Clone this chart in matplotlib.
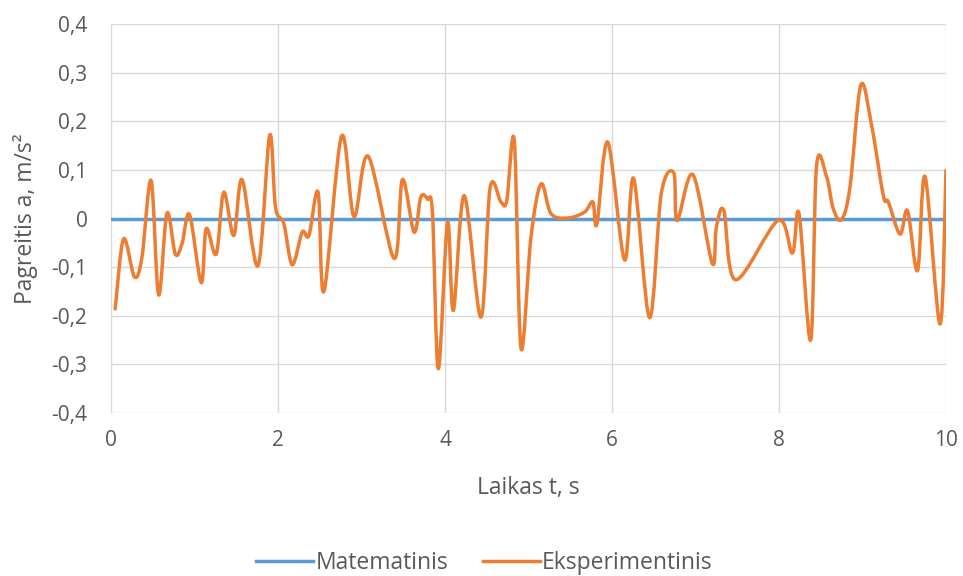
import matplotlib
matplotlib.use("Agg")
import matplotlib.pyplot as plt
from matplotlib.path import Path
from matplotlib.patches import PathPatch
from matplotlib.lines import Line2D
from matplotlib.ticker import FuncFormatter, MultipleLocator

plt.rcParams['font.family'] = ['Open Sans', 'DejaVu Sans']

# Data
t_math = [0.0, 10.0]
a_math = [0.0, 0.0]

t_exp = [0.05, 0.15, 0.28, 0.37, 0.48, 0.57, 0.67, 0.77, 0.85, 0.94,
         1.08, 1.14, 1.26, 1.35, 1.47, 1.57, 1.76, 1.90, 1.97, 2.07,
         2.17, 2.29, 2.37, 2.48, 2.55, 2.76, 2.91, 3.08, 3.39, 3.49,
         3.63, 3.71, 3.79, 3.85, 3.92, 4.03, 4.10, 4.23, 4.43, 4.54, 4.67,
         4.74, 4.83, 4.91, 5.03, 5.15, 5.27, 5.47, 5.67, 5.77, 5.82,
         5.95, 6.15, 6.26, 6.45, 6.59, 6.74, 6.78, 6.97, 7.20, 7.25,
         7.34, 7.48, 7.99, 8.16, 8.24, 8.38, 8.45, 8.57, 8.65, 8.75,
         8.85, 8.98, 9.11, 9.25, 9.31, 9.45, 9.54, 9.66, 9.75, 9.93,
         10.0]
a_exp = [-0.186, -0.042, -0.120, -0.080, 0.078, -0.157, 0.011, -0.073, -0.052, 0.008,
         -0.132, -0.021, -0.073, 0.054, -0.035, 0.080, -0.097, 0.171, 0.023, -0.011,
         -0.095, -0.028, -0.035, 0.054, -0.150, 0.169, 0.004, 0.128, -0.082, 0.080,
         -0.028, 0.044, 0.040, 0.010, -0.309, -0.008, -0.189, 0.047, -0.203, 0.063, 0.034,
         0.037, 0.159, -0.267, -0.038, 0.071, 0.010, 0.001, 0.013, 0.034, -0.011,
         0.157, -0.085, 0.082, -0.204, 0.051, 0.094, -0.004, 0.090, -0.092, -0.018,
         0.016, -0.126, -0.004, -0.071, 0.010, -0.250, 0.108, 0.086, 0.020, -0.002,
         0.064, 0.274, 0.191, 0.047, 0.034, -0.032, 0.016, -0.107, 0.086, -0.217,
         0.099]

series_names = ["Matematinis", "Eksperimentinis"]
blue = "#5B9BD5"
orange = "#ED7D31"
grid_c = "#D9D9D9"
text_c = "#595959"


def smooth_path(xs, ys):
    # Excel-style smoothed line: cubic Bezier segments (Catmull-Rom control points)
    n = len(xs)
    verts = [(xs[0], ys[0])]
    codes = [Path.MOVETO]
    for i in range(n - 1):
        x0, y0 = (xs[i - 1], ys[i - 1]) if i > 0 else (xs[i], ys[i])
        x1, y1 = xs[i], ys[i]
        x2, y2 = xs[i + 1], ys[i + 1]
        x3, y3 = (xs[i + 2], ys[i + 2]) if i + 2 < n else (x2, y2)
        c1 = (x1 + (x2 - x0) / 6.0, y1 + (y2 - y0) / 6.0)
        c2 = (x2 - (x3 - x1) / 6.0, y2 - (y3 - y1) / 6.0)
        verts += [c1, c2, (x2, y2)]
        codes += [Path.CURVE4] * 3
    return Path(verts, codes)


fig = plt.figure(figsize=(9.63, 5.76), dpi=100)
ax = fig.add_axes([0.1153, 0.283, 0.867, 0.6753])

ax.set_xlim(0, 10)
ax.set_ylim(-0.4, 0.4)
ax.xaxis.set_major_locator(MultipleLocator(2))
ax.yaxis.set_major_locator(MultipleLocator(0.1))
ax.grid(True, color=grid_c, linewidth=1.0)
ax.set_axisbelow(True)
for s in ax.spines.values():
    s.set_visible(False)
ax.tick_params(length=0, colors=text_c, labelsize=15)
ax.tick_params(axis='y', pad=17)
ax.tick_params(axis='x', pad=12)


def fmt(v, pos):
    if abs(v) < 1e-9:
        return "0"
    return ("%.1f" % v).replace(".", ",")


ax.yaxis.set_major_formatter(FuncFormatter(fmt))
ax.xaxis.set_major_formatter(FuncFormatter(lambda v, p: "%d" % round(v)))

ax.plot(t_math, a_math, color=blue, linewidth=2.5, solid_capstyle='round', zorder=3)
ax.add_patch(PathPatch(smooth_path(t_exp, a_exp), fill=False, edgecolor=orange,
                       linewidth=2.5, capstyle='round', joinstyle='round', zorder=4))

ax.set_xlabel("Laikas t, s", fontsize=16.5, color=text_c, labelpad=18)
ax.set_ylabel("Pagreitis a, m/s²", fontsize=16.5, color=text_c, labelpad=10)

handles = [Line2D([], [], color=blue, linewidth=2.5),
           Line2D([], [], color=orange, linewidth=2.5)]
fig.legend(handles, series_names, loc='center', bbox_to_anchor=(0.503, 0.022),
           ncol=2, frameon=False, fontsize=16.5, labelcolor=text_c,
           handlelength=2.5, handletextpad=0.1, columnspacing=1.5)

fig.savefig("out.png", dpi=100)
